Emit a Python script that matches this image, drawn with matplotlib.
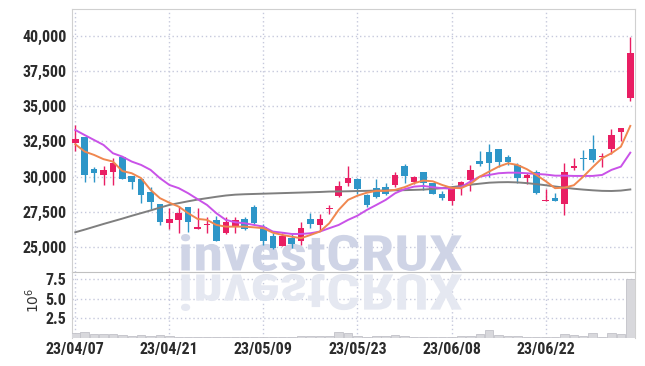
import matplotlib
matplotlib.use("Agg")
import matplotlib.pyplot as plt
import numpy as np
from matplotlib.textpath import TextPath
from matplotlib.patches import PathPatch
from matplotlib.font_manager import FontProperties
from matplotlib.transforms import Affine2D

# daily candles (KRW)
opens = [32400, 32800, 30550, 30100, 30300, 31400, 30050, 29850, 28900, 28050,
         26700, 26900, 27850, 26300, 26600, 26950, 26000, 26450, 27000, 27850,
         26450, 25800, 25100, 25650, 25450, 27000, 26550, 27700, 28650, 29550,
         29850, 28700, 29200, 29250, 29400, 30750, 29650, 30300, 29550, 28800,
         28300, 29250, 29750, 31100, 31750, 31950, 31400, 30850, 29900, 30350,
         28300, 28450, 28050, 30600, 31300, 31950, 31400, 31950, 33200, 35600]
highs = [33650, 32800, 30650, 30750, 31300, 31400, 30050, 29850, 29250, 28050,
         27800, 27950, 27850, 27800, 27150, 27200, 27150, 27100, 27150, 28000,
         26650, 26000, 26000, 25950, 26800, 27450, 27350, 28000, 29700, 30750,
         29900, 28800, 29800, 29550, 30350, 30900, 30050, 30350, 29550, 28950,
         29350, 29700, 30800, 31800, 32300, 31950, 31550, 31000, 30250, 30450,
         29100, 28850, 31000, 31300, 31900, 32950, 31650, 33350, 33450, 39900]
lows = [31800, 29650, 29650, 29400, 29400, 29850, 29100, 28100, 27700, 26600,
        26250, 26000, 26100, 26300, 26000, 25400, 25950, 26000, 26200, 26650,
        25150, 24850, 25050, 24950, 25150, 26350, 26150, 27350, 28550, 29300,
        28800, 27850, 28450, 28700, 29250, 29550, 29500, 29050, 28750, 28350,
        28000, 28700, 28950, 30750, 30000, 30700, 30850, 29550, 29500, 28800,
        28300, 28250, 27250, 30500, 30500, 31050, 30700, 31600, 32550, 35350]
closes = [32700, 30150, 30250, 30500, 31000, 29850, 29600, 28700, 28200, 26800,
          27000, 27450, 26750, 26450, 26650, 25450, 26800, 26900, 26300, 26700,
          25450, 24950, 25800, 25200, 26350, 26650, 27000, 27750, 29350, 29900,
          29150, 28000, 28550, 28750, 30100, 30050, 29950, 29550, 28800, 28450,
          29200, 29650, 30500, 30900, 31000, 31050, 31050, 29900, 30150, 28850,
          28350, 28300, 30300, 30750, 31250, 31200, 31450, 32950, 33450, 38750]
# volume in millions
volumes = [0.6, 0.75, 0.45, 0.5, 0.45, 0.35, 0.25, 0.38, 0.3, 0.35,
           0.2, 0.15, 0.15, 0.1, 0.1, 0.12, 0.08, 0.1, 0.12, 0.15,
           0.1, 0.12, 0.08, 0.1, 0.25, 0.3, 0.25, 0.3, 0.75, 0.6,
           0.2, 0.15, 0.3, 0.2, 0.35, 0.25, 0.15, 0.12, 0.15, 0.1,
           0.15, 0.2, 0.3, 0.55, 1.0, 0.4, 0.2, 0.28, 0.15, 0.1,
           0.08, 0.1, 0.55, 0.42, 0.3, 0.66, 0.16, 0.66, 0.45, 7.6]

ma5 = [32300, 31780, 31540, 31240, 31070, 30400, 30240, 29890, 29060, 28470,
       28150, 27870, 27400, 27000, 26930, 26570, 26450, 26450, 26450, 26400,
       26340, 26020, 25860, 25740, 25630, 25860, 26100, 26690, 27640, 28350,
       28650, 28860, 28990, 28990, 29060, 29250, 29530, 29720, 29670, 29410,
       29200, 29180, 29480, 30000, 30360, 30710, 30950, 30830, 30530, 30120,
       29680, 29180, 29220, 29390, 30000, 30670, 31310, 31660, 32130, 33600]
ma10 = [33310, 32950, 32600, 32250, 31660, 31420, 31070, 30830, 30480, 29890,
        29410, 29180, 28820, 28400, 27990, 27400, 26930, 26760, 26690, 26570,
        26450, 26100, 26020, 25930, 25930, 25980, 26100, 26340, 26570, 26930,
        27230, 27640, 27990, 28350, 28820, 29110, 29290, 29340, 29250, 29180,
        29150, 29250, 29650, 30000, 30120, 30240, 30280, 30280, 30240, 30190,
        30150, 30070, 30070, 30050, 30050, 30050, 30120, 30480, 30710, 31700]
ma60 = [26050, 26240, 26440, 26640, 26830, 27020, 27220, 27410, 27600, 27800,
        27990, 28120, 28250, 28370, 28470, 28570, 28660, 28720, 28750, 28770,
        28790, 28810, 28830, 28850, 28870, 28890, 28910, 28940, 28950, 28960,
        28980, 28990, 29010, 29010, 29030, 29040, 29060, 29080, 29130, 29180,
        29250, 29340, 29430, 29500, 29570, 29600, 29610, 29590, 29540, 29470,
        29390, 29300, 29220, 29140, 29080, 29030, 28990, 28980, 29010, 29090]

tick_pos = [0, 10, 20, 30, 40, 50]
tick_labels = ["23/04/07", "23/04/21", "23/05/09", "23/05/23", "23/06/08", "23/06/22"]

# condensed face for the tick labels, falls back to DejaVu if none is present
FAMILIES = ['Roboto Condensed', 'Archivo Narrow', 'IBM Plex Sans Condensed',
            'Liberation Sans Narrow', 'DejaVu Sans']
plt.rcParams['font.family'] = FAMILIES

UP = '#e91e63'
DOWN = '#2e96c8'
GRID = '#c6c9dc'

fig = plt.figure(figsize=(6.45, 3.66), dpi=100)
ax = fig.add_axes([72 / 645, 94 / 366, 563 / 645, 263 / 366])
axv = fig.add_axes([72 / 645, 28 / 366, 563 / 645, 66 / 366], sharex=ax)
axv.set_facecolor('none')

x = np.arange(len(closes))
o = np.array(opens)
c = np.array(closes)
colors = [UP if cc >= oo else DOWN for oo, cc in zip(o, c)]

ax.vlines(x, lows, highs, colors=colors, linewidth=1, zorder=3)
body_lo = np.minimum(o, c)
body_h = np.maximum(np.abs(c - o), 70)
ax.bar(x, body_h, bottom=body_lo, width=0.7, color=colors, zorder=4)

ax.plot(x, ma60, color='#7f7f7f', linewidth=1.4, zorder=5)
ax.plot(x, ma10, color='#c952e8', linewidth=1.4, zorder=5)
ax.plot(x, ma5, color='#f0874f', linewidth=1.4, zorder=6)

axv.bar(x, volumes, width=0.9, color='#d8d8dc', edgecolor='#c2c2c8', linewidth=0.6, zorder=3)

ax.set_xlim(-0.35, 59.5)
ax.set_ylim(23230, 41900)
ax.set_yticks([25000, 27500, 30000, 32500, 35000, 37500, 40000])
ax.set_yticklabels([f"{v:,}" for v in [25000, 27500, 30000, 32500, 35000, 37500, 40000]])
axv.set_ylim(0, 8.45)
axv.set_yticks([2.5, 5.0, 7.5])
axv.set_yticklabels(["2.5", "5.0", "7.5"])
axv.set_xticks(tick_pos)
axv.set_xticklabels(tick_labels)
ax.tick_params(axis='x', labelbottom=False)

for a in (ax, axv):
    a.set_axisbelow(True)
    a.grid(True, color=GRID, linestyle=(0, (1, 2)), linewidth=1)
    a.tick_params(length=0, labelsize=11.5, labelcolor='#2b2b2b', pad=4)
    for lab in a.get_xticklabels() + a.get_yticklabels():
        lab.set_fontweight(600)
    for s in a.spines.values():
        s.set_color('#d0d0d0')
axv.tick_params(axis='x', pad=3)
axv.spines['top'].set_visible(False)
axv.spines['bottom'].set_visible(False)
ax.spines['bottom'].set_color('#c0c0c0')

fig.text(33 / 645, 1 - 300 / 366, r'$10^{6}$', rotation=90, ha='center', va='center',
         fontsize=10, color='#333333')

# watermark and its reflection
fp = FontProperties(family=FAMILIES, weight='heavy')
tp = TextPath((0, 0), 'investCRUX', size=1, prop=fp)
ext = tp.get_extents()
sx = 281 / ext.width
sy = 37 / ext.height
main_tr = Affine2D().translate(-ext.x0, -ext.y0).scale(sx, sy).translate(181, 366 - 271)
mirror_tr = Affine2D().translate(-ext.x0, -ext.y0).scale(sx, -sy).translate(181, 366 - 274)
ax.add_patch(PathPatch(tp, transform=main_tr, facecolor='#cfd4e6', edgecolor='none',
                       zorder=0.8, clip_on=False))
axv.add_patch(PathPatch(tp, transform=mirror_tr, facecolor='#e5e8f1', edgecolor='none',
                        zorder=0.8, clip_on=False))

plt.savefig('out.png', dpi=100)
